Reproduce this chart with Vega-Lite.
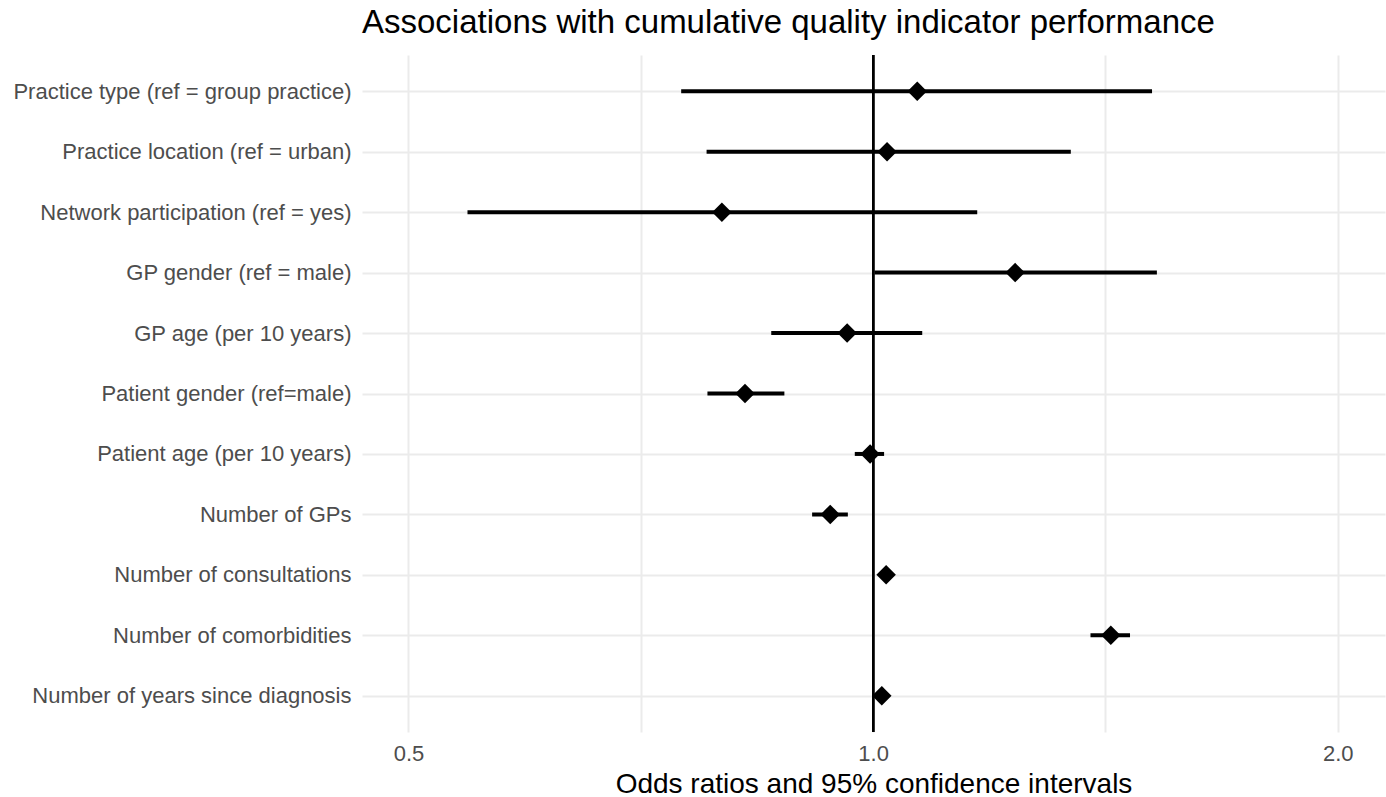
{
  "$schema": "https://vega.github.io/schema/vega-lite/v6.json",
  "width": 1023,
  "height": 677,
  "autosize": "none",
  "padding": {"left": 362, "top": 55, "right": 1, "bottom": 65},
  "background": "white",
  "title": {
    "text": "Associations with cumulative quality indicator performance",
    "anchor": "start",
    "frame": "group",
    "font": "Liberation Sans",
    "fontSize": 33,
    "fontWeight": "normal",
    "color": "#000000",
    "offset": 14
  },
  "config": {
    "view": {"stroke": null},
    "font": "Liberation Sans"
  },
  "data": {
    "values": [
      {"term": "Practice type (ref = group practice)", "or": 1.068, "lo": 0.751, "hi": 1.516},
      {"term": "Practice location (ref = urban)", "or": 1.021, "lo": 0.780, "hi": 1.343},
      {"term": "Network participation (ref = yes)", "or": 0.798, "lo": 0.546, "hi": 1.168},
      {"term": "GP gender (ref = male)", "or": 1.236, "lo": 1.002, "hi": 1.527},
      {"term": "GP age (per 10 years)", "or": 0.962, "lo": 0.859, "hi": 1.076},
      {"term": "Patient gender (ref=male)", "or": 0.826, "lo": 0.781, "hi": 0.876},
      {"term": "Patient age (per 10 years)", "or": 0.9955, "lo": 0.973, "hi": 1.0165},
      {"term": "Number of GPs", "or": 0.938, "lo": 0.913, "hi": 0.963},
      {"term": "Number of consultations", "or": 1.0196, "lo": 1.012, "hi": 1.027},
      {"term": "Number of comorbidities", "or": 1.4256, "lo": 1.383, "hi": 1.467},
      {"term": "Number of years since diagnosis", "or": 1.013, "lo": 1.006, "hi": 1.020}
    ]
  },
  "encoding": {
    "y": {
      "field": "term",
      "type": "nominal",
      "sort": null,
      "scale": {"type": "point", "padding": 0.6},
      "axis": {
        "title": null,
        "domain": false,
        "ticks": false,
        "grid": true,
        "gridColor": "#EBEBEB",
        "gridWidth": 2,
        "labelFont": "Liberation Sans",
        "labelFontSize": 22,
        "labelColor": "#4D4D4D",
        "labelPadding": 11,
        "labelLimit": 0
      }
    }
  },
  "layer": [
    {
      "mark": {"type": "rule", "color": "black", "strokeWidth": 4},
      "encoding": {
        "x": {
          "field": "lo",
          "type": "quantitative",
          "scale": {"type": "log", "domain": [0.4665, 2.146], "nice": false, "zero": false},
          "axis": {
            "title": "Odds ratios and 95% confidence intervals",
            "titleFont": "Liberation Sans",
            "titleFontSize": 28,
            "titleFontWeight": "normal",
            "titleColor": "#000000",
            "titlePadding": 6,
            "values": [0.5, 0.7071, 1, 1.4142, 2],
            "labelExpr": "datum.value == 0.5 ? '0.5' : datum.value == 1 ? '1.0' : datum.value == 2 ? '2.0' : ''",
            "labelFont": "Liberation Sans",
            "labelFontSize": 22,
            "labelColor": "#4D4D4D",
            "labelPadding": 11,
            "domain": false,
            "ticks": false,
            "grid": true,
            "gridColor": "#EBEBEB",
            "gridWidth": 2
          }
        },
        "x2": {"field": "hi"}
      }
    },
    {
      "mark": {"type": "rule", "color": "black", "strokeWidth": 2},
      "encoding": {
        "x": {"datum": 1, "type": "quantitative"},
        "y": null
      }
    },
    {
      "mark": {"type": "point", "shape": "diamond", "filled": true, "color": "black", "opacity": 1, "size": 380},
      "encoding": {
        "x": {"field": "or", "type": "quantitative"}
      }
    }
  ]
}
